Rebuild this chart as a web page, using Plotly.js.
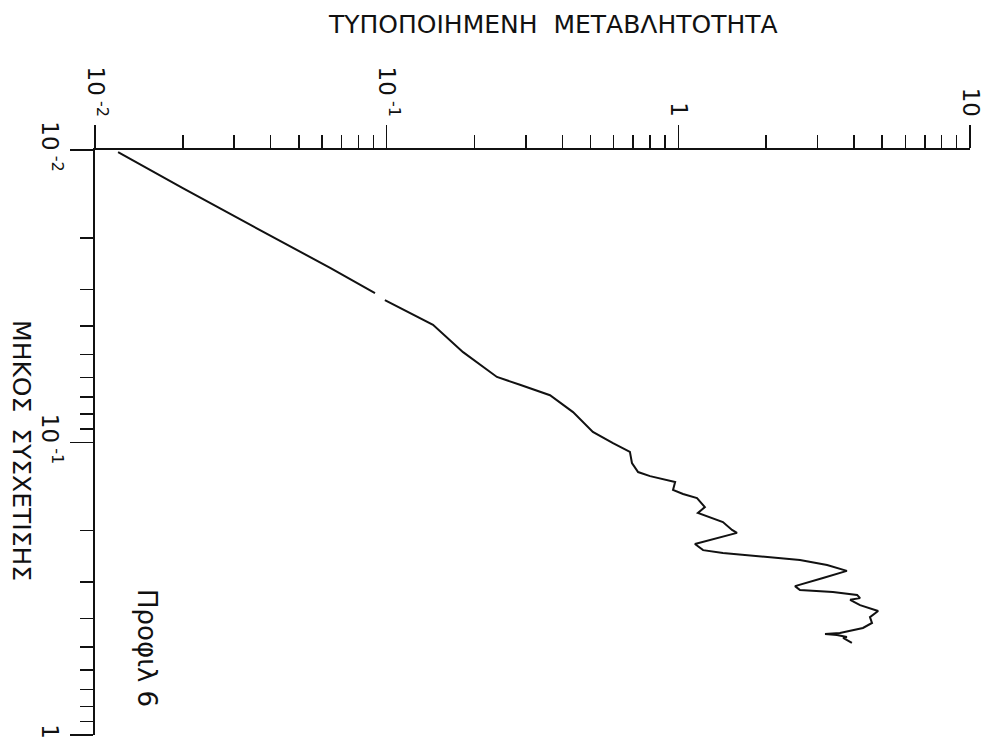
<!DOCTYPE html>
<html>
<head>
<meta charset="utf-8">
<script src="https://cdn.plot.ly/plotly-3.0.1.min.js"></script>
<style>html,body{margin:0;padding:0;background:#fff;}#chart{width:986px;height:739px;}</style>
</head>
<body>
<div id="chart"></div>
<script>
// Normalised variability (horizontal, log) vs correlation length (vertical, log, downward)
const variability = [0.0120, 0.0200, 0.0368, 0.0640, 0.0912, null, 0.0986, 0.1334, 0.1442, 0.1828,
  0.2388, 0.2864, 0.3631, 0.4355, 0.5093, 0.597, 0.6823, 0.6934, 0.7278, 0.80,
  0.975, 0.959, 1.038, 1.159, 1.233, 1.167, 1.285, 1.422, 1.528, 1.589,
  1.140, 1.216, 1.422, 2.014, 2.612, 3.236, 3.784, 3.133, 2.512, 2.612,
  3.388, 4.102, 4.198, 3.882, 4.198, 4.842, 4.539, 4.613, 4.295, 3.581,
  3.184, 3.499, 3.784, 3.673, 3.936];
const corrLength = [0.01016, 0.01349, 0.01879, 0.02529, 0.03083, null, 0.03258, 0.0381, 0.0396, 0.0491,
  0.0597, 0.0635, 0.0689, 0.0787, 0.0920, 0.1005, 0.1076, 0.1175, 0.1262, 0.1303,
  0.1365, 0.1452, 0.150, 0.1549, 0.1663, 0.1742, 0.1799, 0.1871, 0.1991, 0.2037,
  0.2223, 0.2333, 0.2388, 0.246, 0.2523, 0.2624, 0.2748, 0.2904, 0.3097, 0.3192,
  0.3243, 0.3319, 0.3404, 0.3451, 0.3597, 0.3767, 0.3954, 0.414, 0.4305, 0.4477,
  0.4519, 0.455, 0.4624, 0.4656, 0.4842];

const xMajorVals = [0.01, 0.1, 1, 10];
const xMajorText = ['10<sup> -2</sup>', '10<sup> -1</sup>', '1', '10'];
const yMajorVals = [0.01, 0.1, 1];
const yMajorText = ['10<sup> -2</sup>', '10<sup> -1</sup>', '1'];
const minorDigits = [2, 3, 4, 5, 6, 7, 8, 9];
const xDecades = [0.01, 0.1, 1];
const yDecades = [0.01, 0.1];

const xTitle = 'ΤΥΠΟΠΟΙΗΜΕΝΗ  ΜΕΤΑΒΛΗΤΟΤΗΤΑ';
const yTitle = 'ΜΗΚΟΣ  ΣΥΣΧΕΤΙΣΗΣ';
const profileLabel = 'Προφιλ 6';

const xMinor = [];
xDecades.forEach(d => minorDigits.forEach(m => xMinor.push(d * m)));
const yMinor = [];
yDecades.forEach(d => minorDigits.forEach(m => yMinor.push(d * m)));

const FONT = '"DejaVu Sans", "Liberation Sans", sans-serif';

const trace = {
  x: variability, y: corrLength, type: 'scatter', mode: 'lines',
  line: {color: '#111', width: 2}, connectgaps: false, hoverinfo: 'skip'
};

const layout = {
  width: 986, height: 739,
  margin: {l: 95, r: 16, t: 150, b: 4},
  paper_bgcolor: '#fff', plot_bgcolor: '#fff',
  showlegend: false,
  font: {family: FONT, color: '#111'},
  xaxis: {
    type: 'log', range: [-2, 1], side: 'top',
    showline: true, linecolor: '#111', linewidth: 2, zeroline: false, showgrid: false,
    ticks: 'outside', ticklen: 23, tickwidth: 1.5, tickcolor: '#111',
    tickmode: 'array', tickvals: xMajorVals, ticktext: xMajorText,
    tickangle: 90, tickfont: {family: FONT, size: 23, color: '#111'},
    minor: {tickmode: 'array', tickvals: xMinor, ticks: 'outside', ticklen: 13, tickwidth: 1.5, tickcolor: '#111', showgrid: false}
  },
  yaxis: {
    type: 'log', range: [0, -2],
    showline: true, linecolor: '#111', linewidth: 2, zeroline: false, showgrid: false,
    ticks: 'outside', ticklen: 23, tickwidth: 1.5, tickcolor: '#111',
    tickmode: 'array', tickvals: yMajorVals, ticktext: yMajorText,
    tickangle: 90, tickfont: {family: FONT, size: 23, color: '#111'},
    minor: {tickmode: 'array', tickvals: yMinor, ticks: 'outside', ticklen: 13, tickwidth: 1.5, tickcolor: '#111', showgrid: false}
  },
  annotations: [
    {text: xTitle, xref: 'paper', yref: 'paper', x: 0.523, y: 1.2137, showarrow: false,
     font: {family: FONT, size: 25, color: '#111'}, xanchor: 'center', yanchor: 'middle'},
    {text: yTitle, xref: 'paper', yref: 'paper', x: -0.0834, y: 0.487, showarrow: false, textangle: 90,
     font: {family: FONT, size: 25, color: '#111'}, xanchor: 'center', yanchor: 'middle'},
    {text: profileLabel, xref: 'paper', yref: 'paper', x: 0.0594, y: 0.1487, showarrow: false, textangle: 90,
     font: {family: FONT, size: 26, color: '#111'}, xanchor: 'center', yanchor: 'middle'}
  ],
  shapes: [
    {type: 'line', xref: 'paper', yref: 'paper', x0: -0.023, x1: 0, y0: 1, y1: 1, line: {color: '#111', width: 2}},
    {type: 'line', xref: 'paper', yref: 'paper', x0: 0, x1: 0, y0: 1, y1: 1.034, line: {color: '#111', width: 2}}
  ]
};

Plotly.newPlot('chart', [trace], layout, {displayModeBar: false, staticPlot: true});
</script>
</body>
</html>
